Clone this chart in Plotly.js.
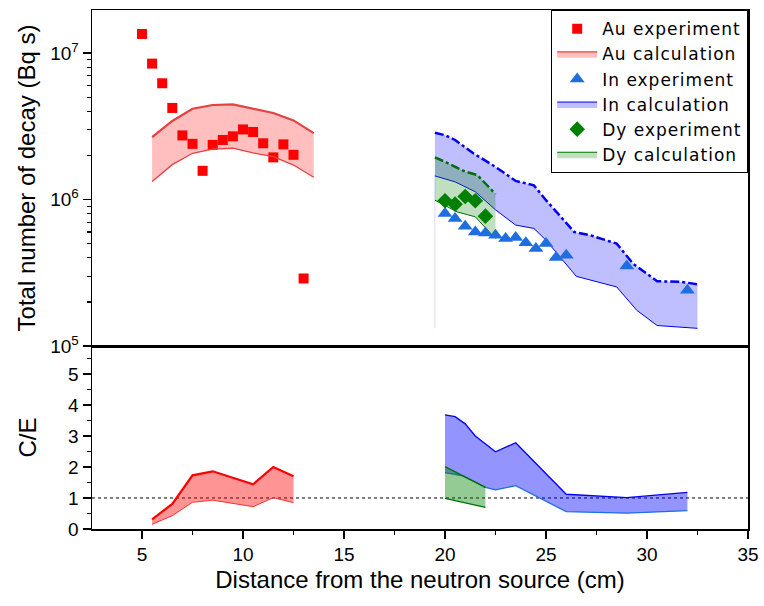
<!DOCTYPE html>
<html>
<head>
<meta charset="utf-8">
<script src="https://cdn.plot.ly/plotly-3.0.1.min.js"></script>
<style>html,body{margin:0;padding:0;background:#fff;}#chart{width:764px;height:606px;}.legendtext{letter-spacing:1px;}</style>
</head>
<body>
<div id="chart"></div>
<script>
// ---- Data ----
const auExpX = [5.0, 5.5, 6.0, 6.5, 7.0, 7.5, 8.0, 8.5, 9.0, 9.5, 10.0, 10.5, 11.0, 11.5, 12.0, 12.5, 13.0];
const auExpY = [1.35e7, 8.47e6, 6.22e6, 4.22e6, 2.74e6, 2.40e6, 1.57e6, 2.36e6, 2.55e6, 2.70e6, 3.01e6, 2.89e6, 2.42e6, 1.94e6, 2.38e6, 2.02e6, 2.89e5];

const auCalcX = [5.5, 6.5, 7.5, 8.5, 9.5, 10.5, 11.5, 12.5, 13.5];
const auCalcHi = [2.67e6, 3.44e6, 4.17e6, 4.42e6, 4.46e6, 4.15e6, 3.90e6, 3.47e6, 2.84e6];
const auCalcLo = [1.33e6, 1.73e6, 2.07e6, 2.21e6, 2.24e6, 2.08e6, 1.96e6, 1.72e6, 1.42e6];

const inExpX = [20.0, 20.5, 21.0, 21.5, 22.0, 22.5, 23.0, 23.5, 24.0, 24.5, 25.0, 25.5, 26.0, 29.0, 32.0];
const inExpY = [8.04e5, 7.43e5, 6.58e5, 6.01e5, 5.92e5, 5.71e5, 5.42e5, 5.51e5, 5.06e5, 4.63e5, 5.01e5, 4.02e5, 4.17e5, 3.52e5, 2.40e5];

const inCalcHiX = [19.5, 20.0, 20.5, 21.4, 22.5, 23.5, 24.4, 25.0, 26.4, 27.2, 28.5, 29.3, 30.5, 31.7, 32.5];
const inCalcHi = [2.86e6, 2.75e6, 2.55e6, 2.07e6, 1.67e6, 1.34e6, 1.25e6, 9.9e5, 6.0e5, 5.7e5, 5.0e5, 3.66e5, 2.77e5, 2.74e5, 2.64e5];
const inCalcLoX = [19.5, 20.5, 21.5, 22.5, 23.5, 24.4, 25.0, 26.5, 28.5, 29.5, 30.5, 32.5];
const inCalcLo = [1.45e6, 1.32e6, 1.13e6, 8.5e5, 6.69e5, 6.35e5, 5.27e5, 2.99e5, 2.53e5, 1.75e5, 1.38e5, 1.32e5];
// faint edge of the In band at its start
const inEdgeX = [19.5, 19.5];
const inEdgeY = [1.45e6, 1.32e5];

const dyExpX = [20.0, 20.5, 21.0, 21.5, 22.0];
const dyExpY = [9.8e5, 9.3e5, 1.05e6, 9.8e5, 7.7e5];

const dyCalcHiX = [19.5, 20.0, 21.0, 21.6, 22.5];
const dyCalcHi = [1.94e6, 1.81e6, 1.55e6, 1.47e6, 1.09e6];
const dyCalcLoX = [19.5, 20.6, 21.5, 22.5];
const dyCalcLo = [9.9e5, 8.24e5, 7.62e5, 5.42e5];

// C/E
const auCeX = [5.5, 6.5, 7.5, 8.5, 10.5, 11.5, 12.5];
const auCeHi = [0.31, 0.81, 1.73, 1.86, 1.44, 2.00, 1.70];
const auCeLo = [0.15, 0.43, 0.86, 0.93, 0.72, 1.01, 0.85];

const inCeX = [20.0, 20.5, 21.0, 21.5, 22.5, 23.5, 26.0, 29.0, 32.0];
const inCeHi = [3.68, 3.62, 3.39, 3.00, 2.49, 2.78, 1.12, 1.01, 1.18];
const inCeLoX = [20.0, 20.9, 22.0, 22.5, 23.5, 26.0, 29.0, 32.0];
const inCeLo = [1.82, 1.71, 1.34, 1.26, 1.40, 0.56, 0.51, 0.59];

const dyCeX = [20.0, 22.0];
const dyCeHi = [2.01, 1.34];
const dyCeLo = [0.99, 0.70];

const ceRefX = [2.525, 35];
const ceRefY = [1, 1];

const yTickVals = [1e5, 1e6, 1e7];
const yTickText = ['10<sup>5</sup>', '10<sup>6</sup>', '10<sup>7</sup>'];
const xTickVals = [5, 10, 15, 20, 25, 30, 35];
const ceTickVals = [0, 1, 2, 3, 4, 5];

// ---- Traces ----
const traces = [
  {x: auExpX, y: auExpY, xaxis: 'x2', yaxis: 'y', mode: 'markers', marker: {symbol: 'square', size: 10, color: '#ff0000'}, name: 'Au experiment', legendrank: 1},
  // Au calc band
  {x: auCalcX, y: auCalcHi, xaxis: 'x2', yaxis: 'y', mode: 'lines', line: {color: '#e84040', width: 2.2}, showlegend: false, hoverinfo: 'skip'},
  {x: auCalcX, y: auCalcLo, xaxis: 'x2', yaxis: 'y', mode: 'lines', fill: 'tonexty', fillcolor: 'rgba(255,0,0,0.25)', line: {color: '#e84040', width: 1.3}, name: 'Au calculation', legendrank: 2},
  // In calc band
  {x: inCalcHiX, y: inCalcHi, xaxis: 'x2', yaxis: 'y', mode: 'lines', line: {color: '#0000ee', width: 2.5, dash: 'dashdot'}, showlegend: false, hoverinfo: 'skip'},
  {x: inCalcLoX, y: inCalcLo, xaxis: 'x2', yaxis: 'y', mode: 'lines', fill: 'tonexty', fillcolor: 'rgba(0,0,255,0.25)', line: {color: '#0000ee', width: 1}, name: 'In calculation', legendrank: 4},
  {x: inEdgeX, y: inEdgeY, xaxis: 'x2', yaxis: 'y', mode: 'lines', line: {color: 'rgba(120,120,255,0.3)', width: 1}, showlegend: false, hoverinfo: 'skip'},
  // Dy calc band
  {x: dyCalcHiX, y: dyCalcHi, xaxis: 'x2', yaxis: 'y', mode: 'lines', line: {color: '#007000', width: 2.5, dash: 'dashdot'}, showlegend: false, hoverinfo: 'skip'},
  {x: dyCalcLoX, y: dyCalcLo, xaxis: 'x2', yaxis: 'y', mode: 'lines', fill: 'tonexty', fillcolor: 'rgba(0,128,0,0.25)', line: {color: '#007000', width: 1}, name: 'Dy calculation', legendrank: 6},
  // markers on top
  {x: inExpX, y: inExpY, xaxis: 'x2', yaxis: 'y', mode: 'markers', marker: {symbol: 'triangle-up', size: 13, color: '#1e6ee0'}, name: 'In experiment', legendrank: 3},
  {x: dyExpX, y: dyExpY, xaxis: 'x2', yaxis: 'y', mode: 'markers', marker: {symbol: 'diamond', size: 12, color: '#008000'}, name: 'Dy experiment', legendrank: 5},
  // C/E
  {x: ceRefX, y: ceRefY, xaxis: 'x', yaxis: 'y2', mode: 'lines', line: {color: '#000', width: 1, dash: '3px,3px'}, showlegend: false, hoverinfo: 'skip'},
  {x: auCeX, y: auCeHi, xaxis: 'x', yaxis: 'y2', mode: 'lines', line: {color: '#ff0000', width: 2.2}, showlegend: false},
  {x: auCeX, y: auCeLo, xaxis: 'x', yaxis: 'y2', mode: 'lines', fill: 'tonexty', fillcolor: 'rgba(255,0,0,0.42)', line: {color: '#ff3030', width: 1}, showlegend: false},
  {x: inCeX, y: inCeHi, xaxis: 'x', yaxis: 'y2', mode: 'lines', line: {color: '#0000ee', width: 1.3}, showlegend: false},
  {x: inCeLoX, y: inCeLo, xaxis: 'x', yaxis: 'y2', mode: 'lines', fill: 'tonexty', fillcolor: 'rgba(0,0,255,0.42)', line: {color: '#1e6ee0', width: 1.3}, showlegend: false},
  {x: dyCeX, y: dyCeHi, xaxis: 'x', yaxis: 'y2', mode: 'lines', line: {color: '#007000', width: 1.3}, showlegend: false},
  {x: dyCeX, y: dyCeLo, xaxis: 'x', yaxis: 'y2', mode: 'lines', fill: 'tonexty', fillcolor: 'rgba(0,128,0,0.42)', line: {color: '#007000', width: 1.3}, showlegend: false}
];

const fam = "'Liberation Sans', Arial, sans-serif";
const tickFont = {family: fam, size: 19, color: '#000'};
const titleFont = {family: fam, size: 24, color: '#000'};
const split = 0.3526;

const layout = {
  width: 764, height: 606,
  margin: {l: 92, r: 16, t: 10, b: 77},
  paper_bgcolor: '#fff', plot_bgcolor: '#fff',
  font: tickFont,
  showlegend: true,
  legend: {
    x: 1, xanchor: 'right', y: 1, yanchor: 'top',
    traceorder: 'normal',
    bgcolor: '#fff', bordercolor: '#000', borderwidth: 1.2,
    font: {family: "'DejaVu Sans', sans-serif", size: 17, color: '#000'},
    tracegroupgap: 0, itemwidth: 40
  },
  xaxis: {
    domain: [0, 1], anchor: 'y2', range: [2.525, 35],
    tickvals: xTickVals, ticks: 'outside', ticklen: 8, tickwidth: 1.5, tickcolor: '#000',
    tickfont: tickFont,
    minor: {dtick: 2.5, tick0: 0, ticks: 'outside', ticklen: 4, tickwidth: 1.5, tickcolor: '#000'},
    showline: true, linecolor: '#000', linewidth: 1.5, mirror: true,
    showgrid: false, zeroline: false,
    title: {text: 'Distance from the neutron source (cm)', font: titleFont, standoff: 7}
  },
  xaxis2: {
    domain: [0, 1], anchor: 'y', matches: 'x', range: [2.525, 35],
    showticklabels: false, ticks: '',
    showline: true, linecolor: '#000', linewidth: 1.5, mirror: true,
    showgrid: false, zeroline: false
  },
  yaxis: {
    domain: [split, 1], anchor: 'x2', type: 'log', range: [5, 7.294],
    tickvals: yTickVals, ticktext: yTickText, ticks: 'outside', ticklen: 8, tickwidth: 1.5, tickcolor: '#000',
    tickfont: tickFont,
    minor: {ticks: 'outside', ticklen: 4, tickwidth: 1.2, tickcolor: '#000', dtick: 'D1'},
    showline: true, linecolor: '#000', linewidth: 1.5, mirror: true,
    showgrid: false, zeroline: false,
    title: {text: 'Total number of decay (Bq s)', font: titleFont, standoff: 8}
  },
  yaxis2: {
    domain: [0, split], anchor: 'x', range: [0, 5.9],
    tickvals: ceTickVals, ticks: 'outside', ticklen: 8, tickwidth: 1.5, tickcolor: '#000',
    tickfont: tickFont,
    minor: {dtick: 0.5, tick0: 0, ticks: 'outside', ticklen: 4, tickwidth: 1.2, tickcolor: '#000'},
    showline: true, linecolor: '#000', linewidth: 1.5, mirror: true,
    showgrid: false, zeroline: false,
    title: {text: 'C/E', font: titleFont, standoff: 24}
  }
};

Plotly.newPlot('chart', traces, layout, {displayModeBar: false, staticPlot: true});
</script>
</body>
</html>
